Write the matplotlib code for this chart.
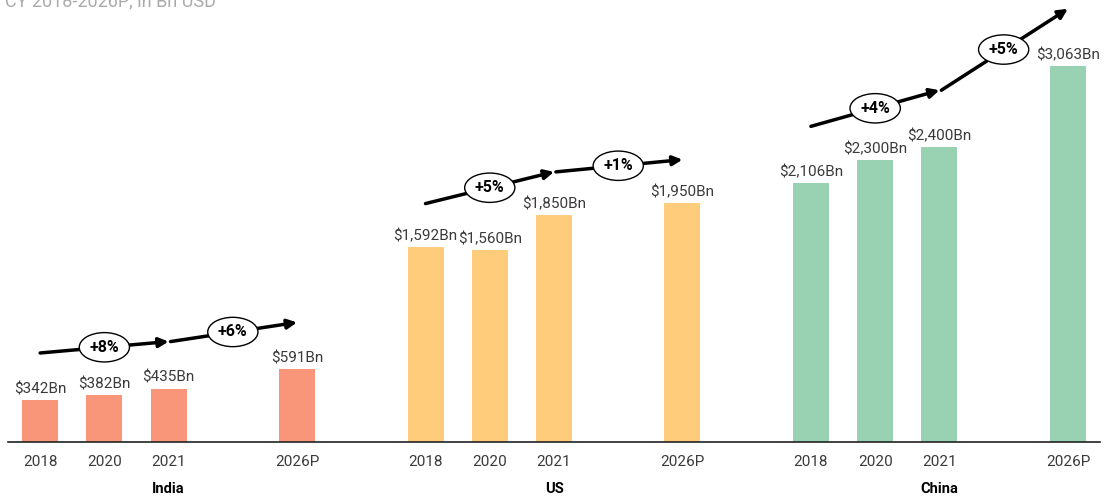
import numpy as np
import matplotlib.pyplot as plt

plt.rcParams['font.family'] = ['Roboto', 'DejaVu Sans']

regions = ["India", "US", "China"]
years = ["2018", "2020", "2021", "2026P"]
india = [342, 382, 435, 591]
us = [1592, 1560, 1850, 1950]
china = [2106, 2300, 2400, 3063]
growth = [["+8%", "+6%"], ["+5%", "+1%"], ["+4%", "+5%"]]
subtitle = "CY 2018-2026P, in Bn USD"

colors = ["#F9967A", "#FECC7A", "#99D1B3"]
slots = np.array([0, 1, 2, 4])
arrow_offset = [383, 350, 465]  # how far above the bars the arrows run

fig = plt.figure(figsize=(11.04, 5.0), dpi=100)
ax = fig.add_axes([8 / 1104, 58 / 500, 1092 / 1104, 442 / 500])

for g, vals in enumerate([india, us, china]):
    x = slots + 6 * g
    ax.bar(x, vals, width=0.56, color=colors[g], zorder=2)
    for xi, v in zip(x, vals):
        ax.text(xi, v + 30, f"${v:,}Bn", ha="center", va="bottom",
                fontsize=11, color="#3a3a3a")
    # growth arrows: 2018 -> 2021 -> 2026P
    pts = [(x[0], vals[0] + arrow_offset[g]),
           (x[2], vals[2] + arrow_offset[g]),
           (x[3], vals[3] + arrow_offset[g])]
    for k in range(2):
        (x0, y0), (x1, y1) = pts[k], pts[k + 1]
        ax.annotate("", xy=(x1, y1), xytext=(x0 + (0.03 if k else 0), y0),
                    arrowprops=dict(arrowstyle="-|>", lw=2.5, color="black",
                                    mutation_scale=14, shrinkA=0, shrinkB=0),
                    zorder=3)
        ax.text((x0 + x1) / 2, (y0 + y1) / 2, growth[g][k], ha="center", va="center",
                fontsize=11.5, fontweight="bold", zorder=4,
                bbox=dict(boxstyle="ellipse,pad=0.18", fc="white", ec="black", lw=1))
    ax.text(x[1] + 1, -385, regions[g], ha="center", va="center",
            fontsize=10.5, fontweight="bold", color="black")

ticks = np.concatenate([slots + 6 * g for g in range(3)])
ax.set_xticks(ticks)
ax.set_xticklabels(years * 3, fontsize=11, color="#3a3a3a")
ax.tick_params(axis="x", length=0, pad=9)
ax.set_yticks([])
ax.set_xlim(-0.5, 16.5)
ax.set_ylim(0, 3600)
for s in ["top", "right", "left"]:
    ax.spines[s].set_visible(False)
ax.spines["bottom"].set_color("#222222")
ax.spines["bottom"].set_linewidth(1.2)
ax.spines["bottom"].set_zorder(5)

fig.text(5 / 1104, 1 - 6 / 500, subtitle, ha="left", va="baseline",
         fontsize=13, color="#aaaaaa")

fig.savefig("out.png", dpi=100)
